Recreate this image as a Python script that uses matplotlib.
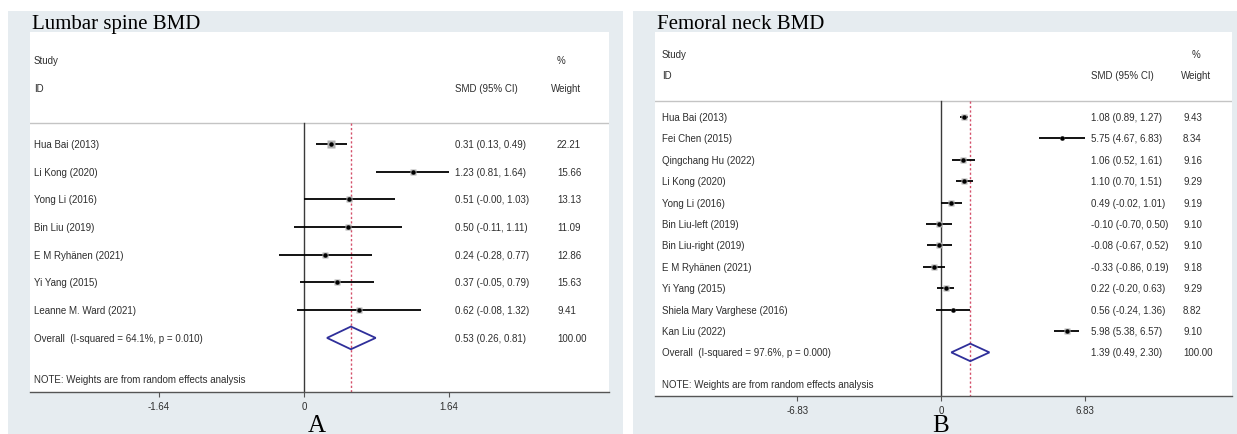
import matplotlib
matplotlib.use("Agg")
import matplotlib.pyplot as plt
from matplotlib.patches import Rectangle, Polygon
import matplotlib.transforms as mtransforms

# ---------------- data ----------------
lumbar_title = "Lumbar spine BMD"
lumbar_studies = ["Hua Bai (2013)", "Li Kong (2020)", "Yong Li (2016)", "Bin Liu (2019)",
                  "E M Ryhänen (2021)", "Yi Yang (2015)", "Leanne M. Ward (2021)"]
lumbar_smd = [0.31, 1.23, 0.51, 0.50, 0.24, 0.37, 0.62]
lumbar_lo = [0.13, 0.81, -0.00, -0.11, -0.28, -0.05, -0.08]
lumbar_hi = [0.49, 1.64, 1.03, 1.11, 0.77, 0.79, 1.32]
lumbar_weight = [22.21, 15.66, 13.13, 11.09, 12.86, 15.63, 9.41]
lumbar_overall = [0.53, 0.26, 0.81]
lumbar_overall_weight = 100.00
lumbar_i2, lumbar_p = 64.1, 0.010
lumbar_ticks = [-1.64, 0, 1.64]
lumbar_ticklabels = ["-1.64", "0", "1.64"]

femoral_title = "Femoral neck BMD"
femoral_studies = ["Hua Bai (2013)", "Fei Chen (2015)", "Qingchang Hu (2022)", "Li Kong (2020)",
                   "Yong Li (2016)", "Bin Liu-left (2019)", "Bin Liu-right (2019)",
                   "E M Ryhänen (2021)", "Yi Yang (2015)", "Shiela Mary Varghese (2016)",
                   "Kan Liu (2022)"]
femoral_smd = [1.08, 5.75, 1.06, 1.10, 0.49, -0.10, -0.08, -0.33, 0.22, 0.56, 5.98]
femoral_lo = [0.89, 4.67, 0.52, 0.70, -0.02, -0.70, -0.67, -0.86, -0.20, -0.24, 5.38]
femoral_hi = [1.27, 6.83, 1.61, 1.51, 1.01, 0.50, 0.52, 0.19, 0.63, 1.36, 6.57]
femoral_weight = [9.43, 8.34, 9.16, 9.29, 9.19, 9.10, 9.10, 9.18, 9.29, 8.82, 9.10]
femoral_overall = [1.39, 0.49, 2.30]
femoral_overall_weight = 100.00
femoral_i2, femoral_p = 97.6, 0.000
femoral_ticks = [-6.83, 0, 6.83]
femoral_ticklabels = ["-6.83", "0", "6.83"]

# ---------------- layout ----------------
W, H = 1237, 435
fig = plt.figure(figsize=(W / 100, H / 100), dpi=100)
fig.patch.set_facecolor("white")

SANS = ["Liberation Sans", "DejaVu Sans"]
SERIF = ["Liberation Serif", "DejaVu Serif"]
BG = "#e6ecf0"
TXT = "#2e2e2e"


def fx(px):
    return px / W


def fy(py):
    return 1 - py / H


def panel(bg_box, white_box, zero_px, ppu, row0, drow, header_y, study_y, id_y,
          note_y, name_x, smd_x, weight_x, weightlbl_x, pct_x, title, title_x,
          letter, letter_x, box_k,
          studies, smd, lo, hi, weight, overall, overall_weight, i2, p, ticks, ticklabels):
    # grey surround behind the white plotting area
    bx0, by0, bx1, by1 = bg_box
    bg = fig.add_axes([fx(bx0), fy(by1), fx(bx1 - bx0), (by1 - by0) / H], zorder=0)
    bg.set_facecolor(BG)
    bg.set_axis_off()
    bg.add_patch(Rectangle((0, 0), 1, 1, transform=bg.transAxes, facecolor=BG, edgecolor="none"))

    wx0, wy0, wx1, wy1 = white_box
    ax = fig.add_axes([fx(wx0), fy(wy1), fx(wx1 - wx0), (wy1 - wy0) / H], zorder=1)
    ax.set_facecolor("white")
    ax.set_xlim((wx0 - zero_px) / ppu, (wx1 - zero_px) / ppu)
    ax.set_ylim(wy1, wy0)
    for s in ("top", "left", "right"):
        ax.spines[s].set_visible(False)
    ax.spines["bottom"].set_color("#555555")
    ax.spines["bottom"].set_linewidth(1.0)
    ax.set_yticks([])
    ax.set_xticks(ticks)
    ax.set_xticklabels(ticklabels, fontsize=7, color=TXT, family=SANS)
    ax.tick_params(axis="x", direction="out", length=3.5, width=0.8, color="#555555", pad=3)

    tx = mtransforms.blended_transform_factory(fig.transFigure, ax.transData)
    n = len(studies)
    rows = [row0 + i * drow for i in range(n + 1)]

    def label(x, y, s):
        ax.text(fx(x), y, s, transform=tx, fontsize=7, color=TXT, family=SANS,
                va="center", clip_on=False)

    # header
    ax.axhline(header_y, color="#c4c4c4", lw=1.0)
    label(name_x, study_y, "Study")
    label(name_x, id_y, "ID")
    label(smd_x, id_y, "SMD (95% CI)")
    label(weightlbl_x, id_y, "Weight")
    label(pct_x, study_y, "%")

    # null line and pooled estimate line
    ax.plot([0, 0], [header_y, wy1], color="#3a3a3a", lw=1.0, zorder=2)
    ax.plot([overall[0], overall[0]], [header_y, wy1], color="#d4506a", lw=1.0,
            ls=(0, (1.6, 1.6)), zorder=2)

    # studies: CI whisker, weight box, point estimate
    for i in range(n):
        y = rows[i]
        ax.plot([lo[i], hi[i]], [y, y], color="black", lw=1.3, zorder=3, solid_capstyle="butt")
        ax.plot(smd[i], y, marker="s", ms=box_k * weight[i] ** 0.5, color="#b0b0b0",
                mec="none", zorder=3)
        ax.plot(smd[i], y, marker="o", ms=3.2, color="black", mec="none", zorder=4)
        label(name_x, y, studies[i])
        label(smd_x, y, f"{smd[i]:.2f} ({lo[i]:.2f}, {hi[i]:.2f})")
        label(weight_x, y, f"{weight[i]:.2f}")

    # pooled diamond
    yo = rows[n]
    hh = drow * 0.41
    dia = Polygon([[overall[1], yo], [overall[0], yo - hh], [overall[2], yo], [overall[0], yo + hh]],
                  closed=True, facecolor="none", edgecolor="#2f2f9a", lw=1.3, zorder=5)
    ax.add_patch(dia)
    label(name_x, yo, f"Overall  (I-squared = {i2:.1f}%, p = {p:.3f})")
    label(smd_x, yo, f"{overall[0]:.2f} ({overall[1]:.2f}, {overall[2]:.2f})")
    label(weight_x, yo, f"{overall_weight:.2f}")

    label(name_x, note_y, "NOTE: Weights are from random effects analysis")

    # titles
    fig.text(fx(title_x), fy(29), title, fontsize=15, family=SERIF, color="black",
             va="baseline", zorder=3)
    fig.text(fx(letter_x), fy(432), letter, fontsize=18, family=SERIF, color="black",
             ha="center", va="baseline", zorder=3)
    return ax


panel(bg_box=(8, 12, 623, 435), white_box=(30, 33, 609, 393), zero_px=304, ppu=88.5,
      row0=145, drow=27.7, header_y=124, study_y=61, id_y=89, note_y=380,
      name_x=34, smd_x=455, weight_x=557, weightlbl_x=551, pct_x=557,
      title=lumbar_title, title_x=32, letter="A", letter_x=317, box_k=1.25,
      studies=lumbar_studies, smd=lumbar_smd, lo=lumbar_lo, hi=lumbar_hi,
      weight=lumbar_weight, overall=lumbar_overall, overall_weight=lumbar_overall_weight,
      i2=lumbar_i2, p=lumbar_p, ticks=lumbar_ticks, ticklabels=lumbar_ticklabels)

panel(bg_box=(633, 12, 1237, 435), white_box=(655, 33, 1232, 397), zero_px=941, ppu=21.05,
      row0=118, drow=21.4, header_y=102, study_y=55, id_y=76, note_y=385,
      name_x=662, smd_x=1091, weight_x=1183, weightlbl_x=1181, pct_x=1192,
      title=femoral_title, title_x=657, letter="B", letter_x=941, box_k=1.2,
      studies=femoral_studies, smd=femoral_smd, lo=femoral_lo, hi=femoral_hi,
      weight=femoral_weight, overall=femoral_overall, overall_weight=femoral_overall_weight,
      i2=femoral_i2, p=femoral_p, ticks=femoral_ticks, ticklabels=femoral_ticklabels)

fig.savefig("out.png", dpi=100, facecolor="white")
